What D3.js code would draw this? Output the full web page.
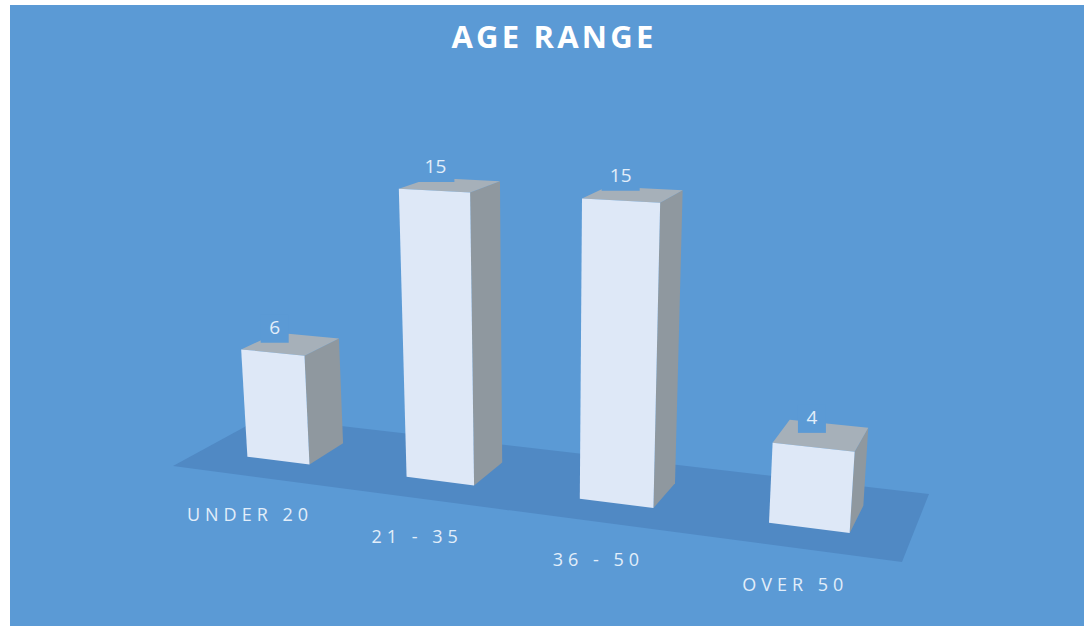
<!DOCTYPE html>
<html lang="en">
<head>
	<meta charset="UTF-8">
	<title>Age Range</title>
	<style>
		html, body {
			margin: 0;
			background: #fff;
			font-family: 'Open Sans', sans-serif;
		}
		svg {
			display: block;
		}
	</style>
	<script src="https://d3js.org/d3.v7.min.js"></script>
</head>
<body>
	<svg id="container"></svg>
	<script>
		const chartTitle = 'AGE RANGE';
		const categories = ['UNDER 20', '21 - 35', '36 - 50', 'OVER 50'];
		const values = [6, 15, 15, 4];

		const width = 1084;
		const height = 626;
		const colors = {
			background: '#5b9ad5',
			floor: '#5089c4',
			front: '#dee8f7',
			side: '#8f989f',
			top: '#a6b0b9',
			label: '#e2eefa',
		};

		// the floor of the 3d chart on screen: front-left, front-right, back-right, back-left
		const [p0, p1, p2, p3] = [[173, 466], [902, 562], [929, 494], [263, 417]];

		// unit square -> floor quad
		const dx1 = p1[0] - p2[0], dx2 = p3[0] - p2[0], sx = p0[0] - p1[0] + p2[0] - p3[0];
		const dy1 = p1[1] - p2[1], dy2 = p3[1] - p2[1], sy = p0[1] - p1[1] + p2[1] - p3[1];
		const det = dx1 * dy2 - dx2 * dy1;
		const g = (sx * dy2 - dx2 * sy) / det;
		const h = (dx1 * sy - sx * dy1) / det;
		const a = p1[0] - p0[0] + g * p1[0], b = p3[0] - p0[0] + h * p3[0];
		const d = p1[1] - p0[1] + g * p1[1], e = p3[1] - p0[1] + h * p3[1];

		// what one value unit adds in homogeneous screen coords (vertical axis of the camera)
		const up = [-1.9, -19.4, -0.0035];

		// u along the categories, v into the depth, y in value units
		const project = (u, v, y) => {
			const w = g * u + h * v + 1 + y * up[2];
			return [
				(a * u + b * v + p0[0] + y * up[0]) / w,
				(d * u + e * v + p0[1] + y * up[1]) / w,
			];
		};

		const u = d3.scaleBand().domain(categories).range([0.002, 1.002]).paddingInner(0.6).paddingOuter(0.3);
		const y = d3.scaleLinear().domain([0, 15]).range([0, 15]);
		const depth = { front: 0.29, back: 0.7 };

		// value labels float just over the front edge of the top face
		const valueLabelU = d3.scaleLinear().domain([0, 1]).range([0.007, 0.995]);
		const valueLabelY = d3.scaleLinear().domain([0, 15]).range([1.55, 16.2]);

		// category labels sit on a line of their own in front of the floor
		const labelU = d3.scalePoint().domain(categories).range([0.2015, 0.897]);
		const labelV = d3.scalePoint().domain(categories).range([-0.529, -0.44]);

		const svg = d3.select('#container').attr('width', width).attr('height', height);
		const poly = d3.line();

		svg.append('rect')
			.attr('x', 10)
			.attr('y', 5)
			.attr('width', width - 10)
			.attr('height', height - 5)
			.attr('fill', colors.background);

		svg.append('path')
			.attr('d', poly([p0, p1, p2, p3]) + 'Z')
			.attr('fill', colors.floor);

		const bars = categories.map((name, i) => ({
			name,
			value: values[i],
			u0: u(name),
			u1: u(name) + u.bandwidth(),
		}));

		const bar = svg.selectAll('g.bar')
			.data(bars)
			.enter()
			.append('g')
			.attr('class', 'bar');

		// right side
		bar.append('path')
			.attr('fill', colors.side)
			.attr('d', (c) => poly([
				project(c.u1, depth.front, 0),
				project(c.u1, depth.back, 0),
				project(c.u1, depth.back, y(c.value)),
				project(c.u1, depth.front, y(c.value)),
			]) + 'Z');
		// top
		bar.append('path')
			.attr('fill', colors.top)
			.attr('d', (c) => poly([
				project(c.u0, depth.front, y(c.value)),
				project(c.u1, depth.front, y(c.value)),
				project(c.u1, depth.back, y(c.value)),
				project(c.u0, depth.back, y(c.value)),
			]) + 'Z');
		// front
		bar.append('path')
			.attr('fill', colors.front)
			.attr('d', (c) => poly([
				project(c.u0, depth.front, 0),
				project(c.u1, depth.front, 0),
				project(c.u1, depth.front, y(c.value)),
				project(c.u0, depth.front, y(c.value)),
			]) + 'Z');

		// value labels, they have a background coloured box that bites into the top face
		const valueLabels = svg.selectAll('g.value')
			.data(bars)
			.enter()
			.append('g')
			.attr('class', 'value')
			.attr('transform', (c) => {
				const p = project(valueLabelU((c.u0 + c.u1) / 2), depth.front, valueLabelY(c.value));
				return `translate(${p[0]},${p[1]})`;
			});
		valueLabels.append('path')
			.attr('fill', colors.background)
			.attr('d', (c) => {
				const halfW = String(c.value).length > 1 ? 19 : 14;
				return poly([[-halfW, -12], [halfW, -12], [halfW, 16], [-halfW, 16]]) + 'Z';
			});
		valueLabels.append('text')
			.attr('text-anchor', 'middle')
			.attr('dy', '0.36em')
			.attr('font-size', 19)
			.attr('fill', colors.label)
			.text((c) => c.value);

		// category labels
		svg.selectAll('text.category')
			.data(categories)
			.enter()
			.append('text')
			.attr('class', 'category')
			.attr('transform', (c) => {
				const p = project(labelU(c), labelV(c), 0);
				return `translate(${p[0]},${p[1]})`;
			})
			.attr('text-anchor', 'middle')
			.attr('dy', '0.36em')
			.attr('font-size', 18)
			.attr('letter-spacing', 5)
			.attr('fill', colors.label)
			.text((c) => c);

		svg.append('text')
			.attr('x', 554)
			.attr('y', 48)
			.attr('text-anchor', 'middle')
			.attr('font-size', 31)
			.attr('font-weight', 700)
			.attr('letter-spacing', 3.2)
			.attr('fill', '#fff')
			.text(chartTitle);
	</script>
</body>
</html>
